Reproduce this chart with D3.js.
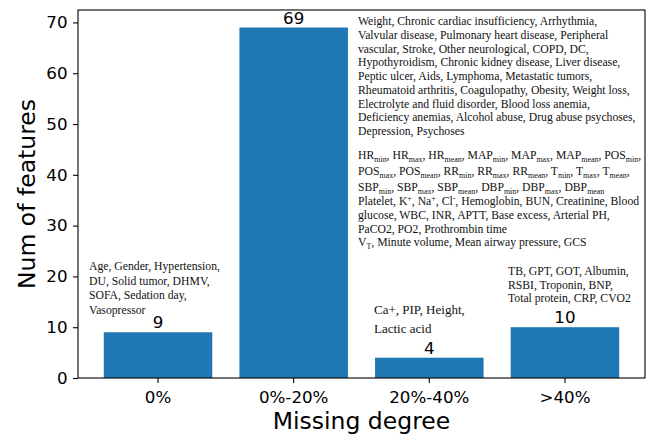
<!DOCTYPE html>
<html>
<head>
<meta charset="utf-8">
<script src="https://cdn.jsdelivr.net/npm/d3@7"></script>
<style>
  html, body { margin: 0; padding: 0; background: #fff; }
  svg { display: block; }
</style>
</head>
<body>
<svg id="chart" width="654" height="436"></svg>
<script>
// ---- data ----
const categories = ["0%", "0%-20%", "20%-40%", ">40%"];
const counts = [9, 69, 4, 10];
const yTicks = [0, 10, 20, 30, 40, 50, 60, 70];
const xTitle = "Missing degree";
const yTitle = "Num of features";

// feature lists per category (markup: _{sub}, ^{sup})
const notes0 = [
  "Age, Gender, Hypertension,",
  "DU, Solid tumor, DHMV,",
  "SOFA, Sedation day,",
  "Vasopressor"
];
const notes1a = [
  "Weight, Chronic cardiac insufficiency, Arrhythmia,",
  "Valvular disease, Pulmonary heart disease, Peripheral",
  "vascular, Stroke, Other neurological, COPD, DC,",
  "Hypothyroidism, Chronic kidney disease, Liver disease,",
  "Peptic ulcer, Aids, Lymphoma, Metastatic tumors,",
  "Rheumatoid arthritis, Coagulopathy, Obesity, Weight loss,",
  "Electrolyte and fluid disorder, Blood loss anemia,",
  "Deficiency anemias, Alcohol abuse, Drug abuse psychoses,",
  "Depression, Psychoses"
];
const notes1b = [
  "HR_{min}, HR_{max}, HR_{mean}, MAP_{min}, MAP_{max}, MAP_{mean}, POS_{min},",
  "POS_{max}, POS_{mean}, RR_{min}, RR_{max}, RR_{mean}, T_{min}, T_{max}, T_{mean},",
  "SBP_{min}, SBP_{max}, SBP_{mean}, DBP_{min}, DBP_{max}, DBP_{mean}"
];
const notes1c = [
  "Platelet, K^{+}, Na^{+}, Cl^{-}, Hemoglobin, BUN, Creatinine, Blood",
  "glucose, WBC, INR, APTT, Base excess, Arterial PH,",
  "PaCO2, PO2, Prothrombin time"
];
const notes1d = [
  "V_{T}, Minute volume, Mean airway pressure, GCS"
];
const notes2 = [
  "Ca+, PIP, Height,",
  "Lactic acid"
];
const notes3 = [
  "TB, GPT, GOT, Albumin,",
  "RSBI, Troponin, BNP,",
  "Total protein, CRP, CVO2"
];

// ---- layout ----
const W = 654, H = 436;
const m = { left: 78, right: 9, top: 10, bottom: 58 };
const svg = d3.select("#chart");
const sans = "DejaVu Sans, sans-serif";
const serif = "Liberation Serif, Times New Roman, serif";

const x = d3.scaleBand()
  .domain(categories)
  .range([m.left, W - m.right])
  .paddingInner(0.2)
  .paddingOuter(0.19);

const y = d3.scaleLinear()
  .domain([0, d3.max(counts) * 1.05])
  .range([H - m.bottom, m.top]);

// bars
svg.append("g").selectAll("rect")
  .data(counts)
  .join("rect")
  .attr("x", (d, i) => x(categories[i]))
  .attr("y", d => y(d))
  .attr("width", x.bandwidth())
  .attr("height", d => y(0) - y(d))
  .attr("fill", "#1f77b4");

// value labels
svg.append("g").selectAll("text")
  .data(counts)
  .join("text")
  .attr("x", (d, i) => x(categories[i]) + x.bandwidth() / 2)
  .attr("y", d => y(d) - 4)
  .attr("text-anchor", "middle")
  .attr("font-family", sans)
  .attr("font-size", 16.7)
  .attr("fill", "#000")
  .text(d => d);

// axes
const xAxis = svg.append("g")
  .attr("transform", `translate(0,${H - m.bottom})`)
  .call(d3.axisBottom(x).tickSize(5).tickPadding(8));
const yAxis = svg.append("g")
  .attr("transform", `translate(${m.left},0)`)
  .call(d3.axisLeft(y).tickValues(yTicks).tickSize(5).tickPadding(5.5));
[xAxis, yAxis].forEach(g => {
  g.select(".domain").remove();
  g.selectAll("line").attr("stroke", "#000").attr("stroke-width", 1.1);
  g.selectAll("text").attr("font-family", sans).attr("font-size", 16.7).attr("fill", "#000");
});

// frame
svg.append("rect")
  .attr("x", m.left).attr("y", m.top)
  .attr("width", W - m.right - m.left).attr("height", H - m.bottom - m.top)
  .attr("fill", "none").attr("stroke", "#000").attr("stroke-width", 1.1);

// titles
svg.append("text")
  .attr("x", (m.left + W - m.right) / 2).attr("y", 429)
  .attr("text-anchor", "middle")
  .attr("font-family", sans).attr("font-size", 23.5).attr("fill", "#000")
  .text(xTitle);
svg.append("text")
  .attr("transform", `translate(35,${(m.top + H - m.bottom) / 2}) rotate(-90)`)
  .attr("text-anchor", "middle")
  .attr("font-family", sans).attr("font-size", 23.5).attr("fill", "#000")
  .text(yTitle);

// rich text helper
function richLine(g, str, xPos, yPos, size) {
  const t = g.append("text")
    .attr("x", xPos).attr("y", yPos)
    .attr("font-family", serif).attr("font-size", size).attr("fill", "#111");
  const re = /([_^])\{([^}]*)\}/g;
  let last = 0, offset = 0, mm;
  const parts = [];
  while ((mm = re.exec(str)) !== null) {
    if (mm.index > last) parts.push({ t: str.slice(last, mm.index), k: "n" });
    parts.push({ t: mm[2], k: mm[1] === "_" ? "sub" : "sup" });
    last = re.lastIndex;
  }
  if (last < str.length) parts.push({ t: str.slice(last), k: "n" });
  parts.forEach(p => {
    const target = p.k === "sub" ? 3 : p.k === "sup" ? -4.5 : 0;
    const ts = t.append("tspan").attr("dy", target - offset).text(p.t);
    if (p.k !== "n") ts.attr("font-size", size * 0.68);
    offset = target;
  });
}
function block(lines, xPos, y0, step, size) {
  const g = svg.append("g");
  lines.forEach((l, i) => richLine(g, l, xPos, y0 + i * step, size));
}

block(notes0, 89, 270, 14.5, 11.7);
block(notes1a, 358, 25, 13.75, 11.7);
block(notes1b, 358, 159, 16, 11.7);
block(notes1c, 358, 205, 14, 11.7);
block(notes1d, 358, 246, 14, 11.7);
block(notes2, 374, 314, 19, 13);
block(notes3, 508, 275, 13.5, 11.7);
</script>
</body>
</html>
